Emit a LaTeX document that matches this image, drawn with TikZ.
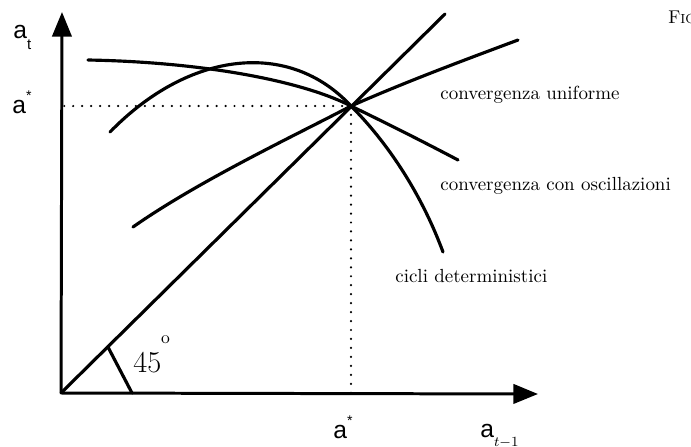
\documentclass[tikz,border=0pt]{standalone}
\usepackage{fontspec}
\newfontfamily\axisfont{Liberation Sans}
\usetikzlibrary{arrows.meta,positioning,calc}

\begin{document}
\begin{tikzpicture}[
    x=0.02cm, y=-0.02cm,
    axis/.style={line width=1.7pt, -{Triangle[length=14pt,width=11pt]}},
    curve/.style={line width=1.8pt, line cap=round},
    guide/.style={line width=1.4pt, line cap=round, dash pattern=on 0pt off 5.1pt},
    curvelabel/.style={anchor=base west, inner sep=0pt, font=\fontsize{10.8}{12}\selectfont},
    axlabel/.style={anchor=base west, inner sep=0pt, font=\axisfont\fontsize{14}{16}\selectfont}
]
    \useasboundingbox (0,0) rectangle (691,447);

    % --- Axes ---
    \coordinate (O) at (61,393);
    \coordinate (ytip) at (62,12);
    \coordinate (xtip) at (538,394);
    \draw[axis] (O) -- (ytip);
    \draw[axis] (O) -- (xtip);

    \node[axlabel] (at) at (13,38) {a\raisebox{-6.8pt}{\fontsize{8.5}{9}\selectfont t}};
    \node[axlabel] (atm1) at (480,437) {a\raisebox{-5.6pt}{\fontsize{8.5}{9}\selectfont$t{-}1$}};

    % --- 45 degree line and steady state ---
    \coordinate (S) at (351,106);
    \coordinate (D) at (445,14);
    \draw[curve] (O) -- (D);

    \coordinate (T1) at ($(O)!0.122!(D)$);
    \coordinate (T2) at (132,393);
    \draw[curve] (T1) -- (T2);
    \node[anchor=base west, inner sep=0pt, font=\LARGE] (deg) at (133,372) {45\raisebox{16.5pt}{\normalsize o}};

    % Dotted guides to the axes
    \draw[guide] (S) -- (S -| O);
    \draw[guide] (S) -- (S |- O);
    \node[axlabel] (astar) at (12,113) {a\raisebox{7.4pt}{\fontsize{8}{8}\selectfont *}};
    \node[axlabel] (astarx) at (333,438) {a\raisebox{7.4pt}{\fontsize{8}{8}\selectfont *}};

    % --- Maps a_t = f(a_{t-1}) ---
    \draw[curve] (133,227) .. controls (200,180) and (300,133) .. (S)
                 .. controls (410,80) and (470,58) .. (518,40);
    \draw[curve] (88,60) .. controls (200,62) and (300,80) .. (S)
                 .. controls (390,125) and (420,140) .. (458,160);
    \draw[curve] (110,132) .. controls (190,50) and (290,40) .. (S)
                 .. controls (385,140) and (420,190) .. (443,252);

    \node[curvelabel] (unif) at (440,99) {convergenza uniforme};
    \node[curvelabel] (osc) at (440,190) {convergenza con oscillazioni};
    \node[curvelabel] (cyc) at (395,282) {cicli deterministici};

    \node[anchor=base west, inner sep=0pt, font=\fontsize{10.5}{12}\selectfont] (fig) at (668,23) {F{\fontsize{7.5}{8}\selectfont IG}};

\end{tikzpicture}
\end{document}
